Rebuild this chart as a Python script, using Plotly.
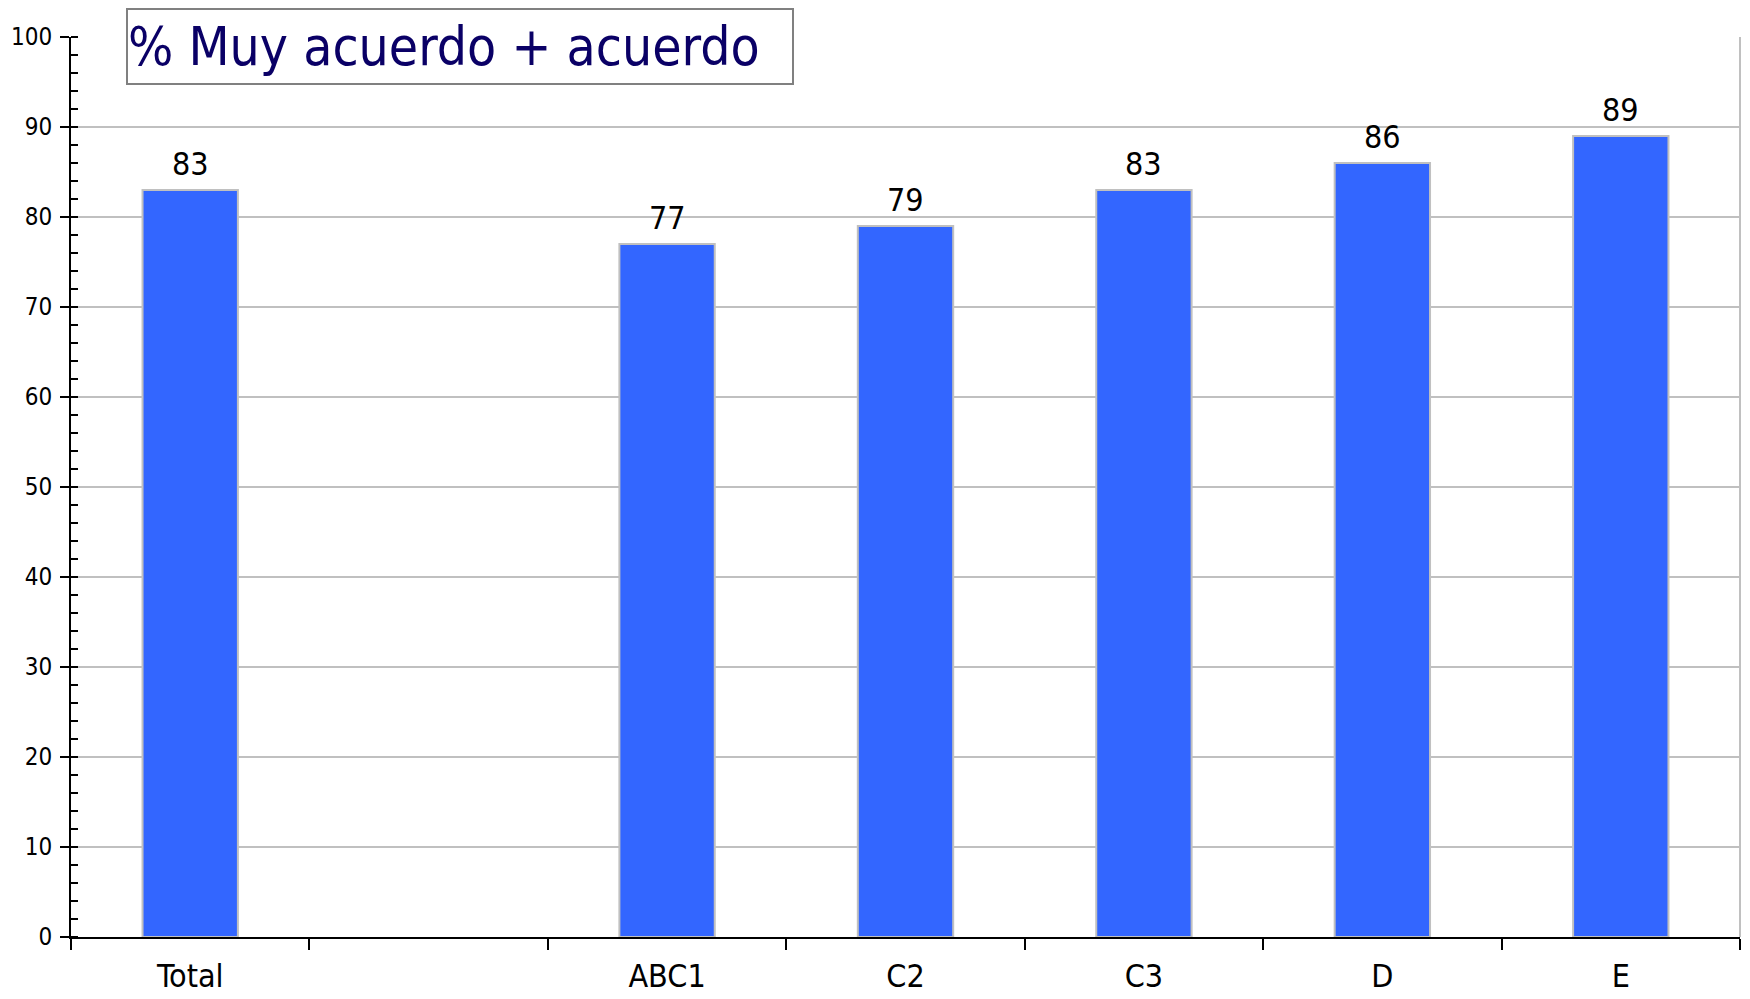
import plotly.graph_objects as go

categories = ["Total", " ", "ABC1", "C2", "C3", "D", "E"]
values = [83, None, 77, 79, 83, 86, 89]
label_texts = ["83", "", "77", "79", "83", "86", "89"]
title_text = "% Muy acuerdo + acuerdo"

FONT = "DejaVu Sans Condensed, DejaVu Sans, sans-serif"

fig = go.Figure()
fig.add_trace(go.Bar(
    x=categories, y=values,
    marker=dict(color="#3366FF", line=dict(color="#C0C0C0", width=2)),
    hoverinfo="x+y",
))

for c, v, t in zip(categories, values, label_texts):
    if v is None:
        continue
    fig.add_annotation(x=c, y=v, text=t, showarrow=False, yanchor="bottom",
                       yshift=5, font=dict(family=FONT, size=32, color="black"))

fig.add_annotation(
    xref="paper", yref="paper", x=0.033, y=1.0322, xanchor="left", yanchor="top",
    text=title_text, showarrow=False, align="left", width=664, height=73,
    bgcolor="white", bordercolor="#808080", borderwidth=2, borderpad=0,
    font=dict(family=FONT, size=53, color="#0A0066"),
)

fig.add_shape(type="line", xref="paper", yref="paper", x0=1, x1=1, y0=0, y1=1,
              line=dict(color="#C0C0C0", width=2), layer="below")

fig.update_layout(
    width=1750, height=999,
    margin=dict(l=63, r=18, t=29, b=70),
    paper_bgcolor="white", plot_bgcolor="white",
    bargap=0.6, showlegend=False,
    font=dict(family=FONT, color="black"),
)
fig.update_xaxes(
    type="category", tickson="boundaries", ticks="outside", ticklen=11,
    tickwidth=2, tickcolor="black", showline=True, linecolor="black", linewidth=2,
    showgrid=False, tickfont=dict(size=32, family=FONT, color="black"),
    ticklabelstandoff=10, automargin=False,
)
fig.update_yaxes(
    range=[0, 100], dtick=10, ticks="outside", ticklen=9, tickwidth=2,
    tickcolor="black", showline=True, linecolor="black", linewidth=2,
    showgrid=True, gridcolor="#C0C0C0", gridwidth=2, zeroline=False,
    tickfont=dict(size=24, family=FONT, color="black"), ticklabelstandoff=3,
    automargin=False,
    minor=dict(ticks="inside", ticklen=7, tickwidth=2, tickcolor="black", dtick=2, showgrid=False),
)

fig.write_html("out.html")
